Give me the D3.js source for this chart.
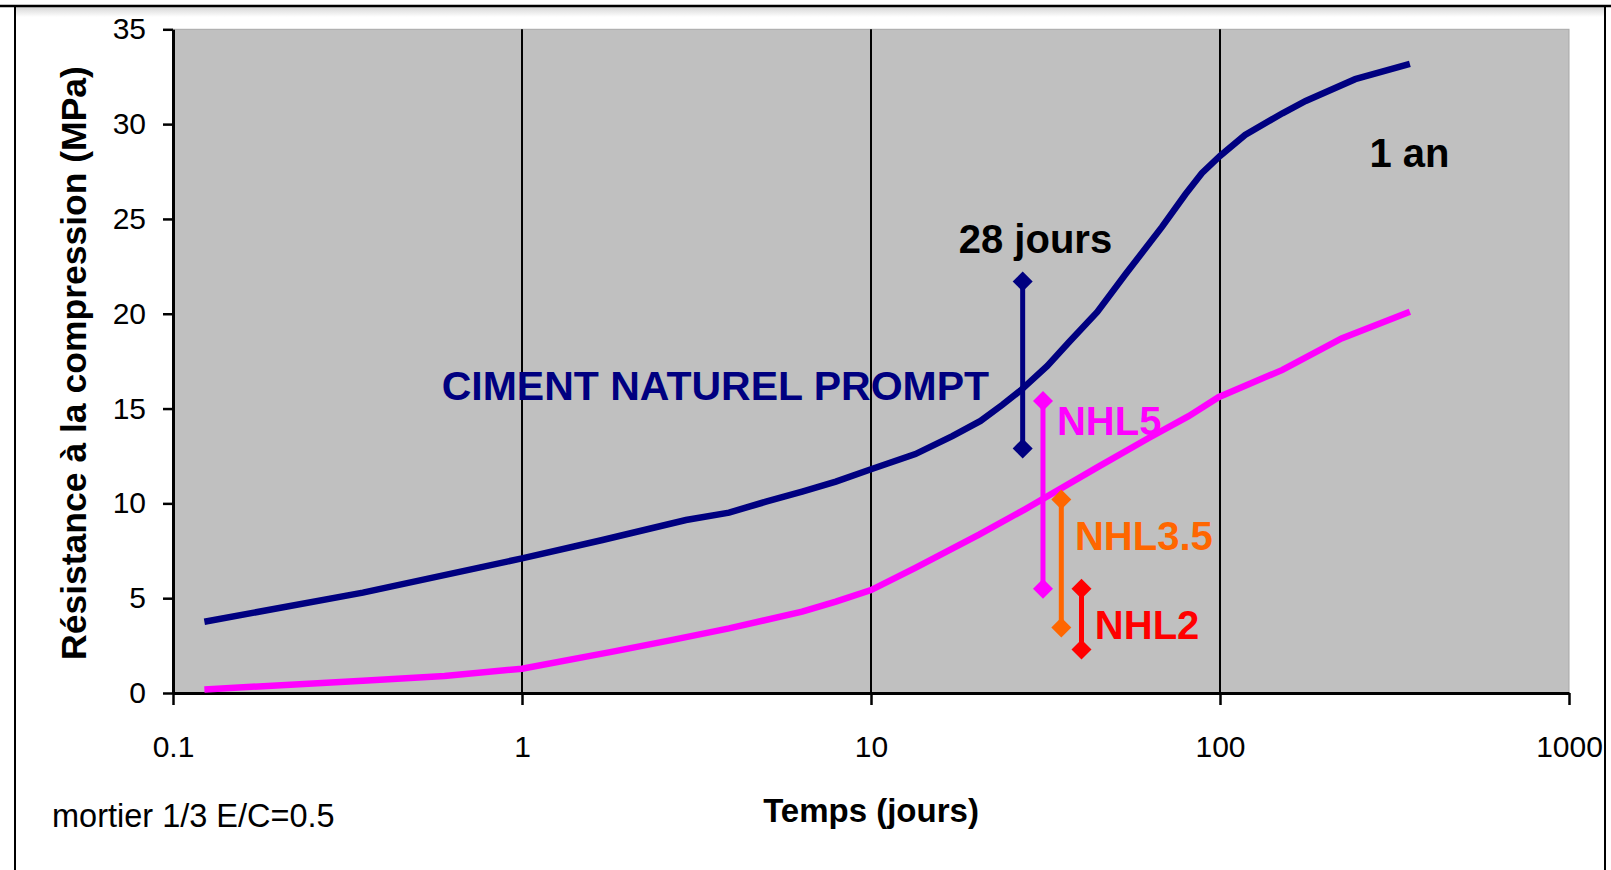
<!DOCTYPE html>
<html>
<head>
<meta charset="utf-8">
<script src="https://cdn.jsdelivr.net/npm/d3@7"></script>
<style>
    body { margin: 0; background: #fff; }
    svg { display: block; font-family: "Liberation Sans", Arial, sans-serif; }
</style>
</head>
<body>
<div id="chart"></div>
<script>
// Ciment naturel prompt curve (days, MPa)
var cimentDays = [0.123, 0.35, 1, 1.7, 2.95, 3.92, 5, 6.35, 7.93, 10, 13.4, 17.1, 20.6, 23.8, 26.8, 32, 36.9, 44.5, 53.6, 68.2, 79.6, 88.7, 100, 118, 151, 176, 244, 350];
var cimentMPa = [3.76, 5.29, 7.1, 8.07, 9.12, 9.51, 10.09, 10.62, 11.15, 11.8, 12.6, 13.55, 14.35, 15.2, 15.95, 17.25, 18.5, 20.1, 22.08, 24.58, 26.3, 27.41, 28.32, 29.43, 30.57, 31.22, 32.37, 33.18];

// Magenta curve (days, MPa)
var nhlDays = [0.123, 0.35, 0.6, 1, 1.82, 2.7, 3.92, 6.35, 7.93, 10, 13.4, 20.4, 27.7, 45, 62.5, 81.3, 99, 151, 223, 350];
var nhlMPa = [0.19, 0.65, 0.9, 1.28, 2.18, 2.8, 3.41, 4.29, 4.82, 5.43, 6.6, 8.35, 9.7, 11.95, 13.45, 14.6, 15.6, 17.04, 18.7, 20.11];

// 28 day ranges
var rangeNames = ["CIMENT", "NHL5", "NHL3.5", "NHL2"];
var rangeDays = [27.2, 31.1, 35.1, 40.1];
var rangeLow = [12.9, 5.5, 3.45, 2.3];
var rangeHigh = [21.7, 15.4, 10.2, 5.5];

// Axis ticks
var xTicks = [0.1, 1, 10, 100, 1000];
var yTicks = [0, 5, 10, 15, 20, 25, 30, 35];
var gridDays = [1, 10, 100];

// Set up SVG params
var svgWdt = 1611;
var svgHgt = 870;
var plot = { left: 173, right: 1569, top: 29.3, bottom: 693 };

var colors = {
    "CIMENT": "#000080",
    "NHL5": "#FF00FF",
    "NHL3.5": "#FF6600",
    "NHL2": "#FF0000"
};

var svg = d3.select("#chart").append("svg")
    .attr("width", svgWdt)
    .attr("height", svgHgt);

// Scales
var x = d3.scaleLog().domain([0.1, 1000]).range([plot.left, plot.right]);
var y = d3.scaleLinear().domain([0, 35]).range([plot.bottom, plot.top]);

// Outer frame with the soft shadow under the top rule
var defs = svg.append("defs");
var grad = defs.append("linearGradient").attr("id", "shade")
    .attr("x1", 0).attr("y1", 0).attr("x2", 0).attr("y2", 1);
grad.append("stop").attr("offset", "0%").attr("stop-color", "#d6d6d6");
grad.append("stop").attr("offset", "100%").attr("stop-color", "#ffffff");
svg.append("rect")
    .attr("x", 16).attr("y", 7).attr("width", 1588).attr("height", 10)
    .attr("fill", "url(#shade)");
svg.append("line").attr("x1", 0).attr("x2", svgWdt).attr("y1", 6).attr("y2", 6)
    .attr("stroke", "#000").attr("stroke-width", 2.5);
svg.append("line").attr("x1", 15).attr("x2", 15).attr("y1", 6).attr("y2", svgHgt)
    .attr("stroke", "#000").attr("stroke-width", 2);
svg.append("line").attr("x1", 1605).attr("x2", 1605).attr("y1", 6).attr("y2", svgHgt)
    .attr("stroke", "#000").attr("stroke-width", 2);

// Plot background
svg.append("rect")
    .attr("x", x(0.1)).attr("y", y(35))
    .attr("width", x(1000) - x(0.1)).attr("height", y(0) - y(35))
    .attr("fill", "#C0C0C0")
    .attr("stroke", "#a8a8a8").attr("stroke-width", 1);

// Vertical gridlines
svg.selectAll(".grid").data(gridDays).enter()
    .append("line")
        .attr("class", "grid")
        .attr("x1", d => x(d)).attr("x2", d => x(d))
        .attr("y1", y(35)).attr("y2", y(0))
        .attr("stroke", "#000").attr("stroke-width", 2);

// Axes
var leftAx = d3.axisLeft(y).tickValues(yTicks).tickSize(10).tickSizeOuter(0).tickPadding(17);
var botAx = d3.axisBottom(x).tickValues(xTicks).tickFormat(d => String(d))
    .tickSize(12).tickSizeOuter(0).tickPadding(31);

var yAxis = svg.append("g")
    .attr("transform", `translate(${x(0.1)}, 0)`)
    .call(leftAx);
var xAxis = svg.append("g")
    .attr("transform", `translate(0, ${y(0)})`)
    .call(botAx);

[yAxis, xAxis].forEach(ax => {
    ax.select(".domain").attr("stroke", "#000").attr("stroke-width", 3);
    ax.selectAll(".tick line").attr("stroke", "#000").attr("stroke-width", 2.5);
    ax.selectAll(".tick text")
        .attr("fill", "#000")
        .style("font-family", "'Liberation Sans', Arial, sans-serif")
        .style("font-size", "30px");
});

// Curves
var line = d3.line().x(d => x(d[0])).y(d => y(d[1]));

svg.append("path")
    .datum(d3.zip(nhlDays, nhlMPa))
    .attr("d", line)
    .attr("fill", "none")
    .attr("stroke", "#FF00FF")
    .attr("stroke-width", 6.5);

svg.append("path")
    .datum(d3.zip(cimentDays, cimentMPa))
    .attr("d", line)
    .attr("fill", "none")
    .attr("stroke", "#000080")
    .attr("stroke-width", 6.5);

// Range bars with diamond ends
var ranges = rangeNames.map((n, i) => ({ name: n, day: rangeDays[i], lo: rangeLow[i], hi: rangeHigh[i] }));
var diamond = d3.symbol(d3.symbolSquare).size(200);

var rangeGrp = svg.selectAll(".range").data(ranges).enter()
    .append("g").attr("class", "range");
rangeGrp.append("line")
    .attr("x1", d => x(d.day)).attr("x2", d => x(d.day))
    .attr("y1", d => y(d.lo)).attr("y2", d => y(d.hi))
    .attr("stroke", d => colors[d.name])
    .attr("stroke-width", 5);
rangeGrp.selectAll("path")
    .data(d => [[d.day, d.lo, d.name], [d.day, d.hi, d.name]])
    .enter()
    .append("path")
        .attr("d", diamond)
        .attr("transform", d => `translate(${x(d[0])}, ${y(d[1])}) rotate(45)`)
        .attr("fill", d => colors[d[2]]);

// Annotations (anchored in data coordinates)
var notes = [
    { text: "CIMENT NATUREL PROMPT", day: 21.8, mpa: 15.45, anchor: "end", color: "#000080", size: 41 },
    { text: "28 jours", day: 29.6, mpa: 23.2, anchor: "middle", color: "#000", size: 40 },
    { text: "1 an", day: 349, mpa: 27.76, anchor: "middle", color: "#000", size: 40 },
    { text: "NHL5", day: 34.1, mpa: 13.6, anchor: "start", color: "#FF00FF", size: 40 },
    { text: "NHL3.5", day: 38.4, mpa: 7.56, anchor: "start", color: "#FF6600", size: 40 },
    { text: "NHL2", day: 43.8, mpa: 2.87, anchor: "start", color: "#FF0000", size: 40 }
];
svg.selectAll(".note").data(notes).enter()
    .append("text")
        .attr("class", "note")
        .attr("x", d => x(d.day))
        .attr("y", d => y(d.mpa))
        .attr("text-anchor", d => d.anchor)
        .attr("fill", d => d.color)
        .attr("font-weight", "bold")
        .attr("font-size", d => d.size + "px")
        .text(d => d.text);

// Axis titles
svg.append("text")
    .attr("transform", `translate(86, 363) rotate(-90)`)
    .attr("text-anchor", "middle")
    .attr("font-weight", "bold")
    .attr("font-size", "35.5px")
    .text("Résistance à la compression (MPa)");

svg.append("text")
    .attr("x", 871).attr("y", 822)
    .attr("text-anchor", "middle")
    .attr("font-weight", "bold")
    .attr("font-size", "33px")
    .text("Temps (jours)");

svg.append("text")
    .attr("x", 52).attr("y", 827)
    .attr("font-size", "32.5px")
    .text("mortier 1/3 E/C=0.5");
</script>
</body>
</html>
